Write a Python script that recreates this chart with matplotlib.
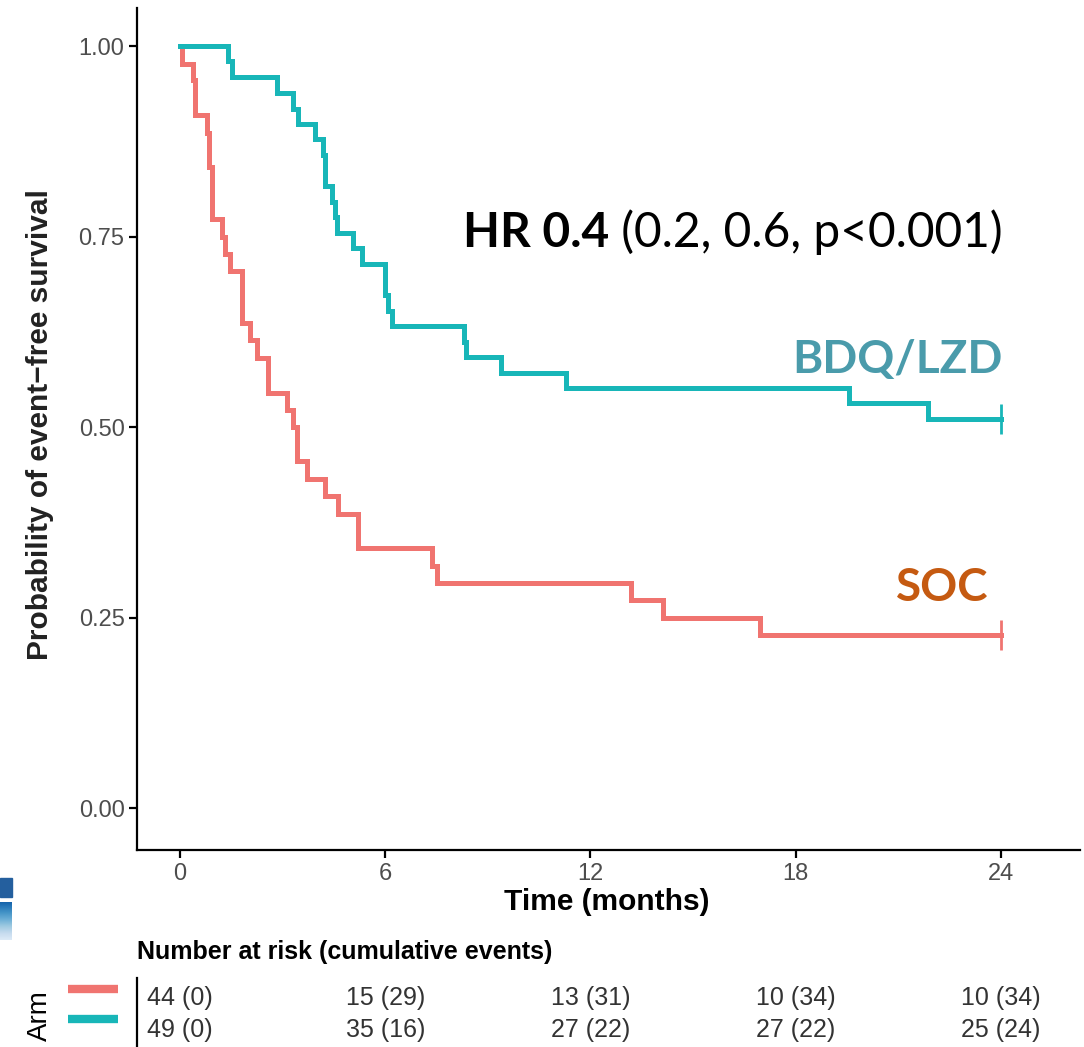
import numpy as np
import matplotlib
matplotlib.use("Agg")
import matplotlib.pyplot as plt
from matplotlib.transforms import blended_transform_factory
from matplotlib.patches import Rectangle

# Kaplan-Meier steps (time in months, survival after the drop)
soc_t = [0, 0.05, 0.39, 0.44, 0.80, 0.86, 0.93, 1.22, 1.32, 1.46, 1.80, 2.05, 2.24,
         2.58, 3.12, 3.31, 3.41, 3.70, 4.24, 4.63, 5.21, 7.36, 7.50, 13.20, 14.13, 16.96]
soc_s = [1.0, 0.977, 0.955, 0.909, 0.886, 0.841, 0.773, 0.750, 0.727, 0.705, 0.636, 0.614, 0.591,
         0.545, 0.523, 0.500, 0.455, 0.432, 0.409, 0.386, 0.341, 0.318, 0.295, 0.273, 0.250, 0.227]

bdq_t = [0, 1.39, 1.51, 2.83, 3.31, 3.46, 3.95, 4.19, 4.24, 4.43, 4.53, 4.58, 5.07, 5.31,
         6.00, 6.09, 6.19, 8.30, 8.36, 9.40, 11.29, 19.57, 21.88]
bdq_s = [1.0, 0.980, 0.959, 0.939, 0.918, 0.898, 0.878, 0.857, 0.816, 0.796, 0.776, 0.755, 0.735, 0.714,
         0.673, 0.653, 0.633, 0.612, 0.592, 0.571, 0.551, 0.531, 0.510]

t_end = 24
risk_times = [0, 6, 12, 18, 24]
soc_risk = ["44 (0)", "15 (29)", "13 (31)", "10 (34)", "10 (34)"]
bdq_risk = ["49 (0)", "35 (16)", "27 (22)", "27 (22)", "25 (24)"]

red = "#F07470"
teal = "#18B6B8"
sans = ["Liberation Sans", "DejaVu Sans"]
lato = ["Lato", "DejaVu Sans"]

fig = plt.figure(figsize=(10.84, 10.47), dpi=100)
ax = fig.add_axes([137 / 1084, 1 - 850 / 1047, (1080 - 137) / 1084, (850 - 8) / 1047])

for t, s, c in [(soc_t, soc_s, red), (bdq_t, bdq_s, teal)]:
    tt = np.append(t, t_end)
    ss = np.append(s, s[-1])
    ax.step(tt, ss, where="post", color=c, lw=3.6, solid_joinstyle="miter")
    ax.plot(t_end, s[-1], marker="|", ms=22, mew=2, color=c)

ax.set_xlim(-1.26, 26.32)
ax.set_ylim(-0.055, 1.05)
ax.set_xticks(risk_times)
ax.set_yticks([0, 0.25, 0.5, 0.75, 1.0])
ax.set_yticklabels(["0.00", "0.25", "0.50", "0.75", "1.00"])
for side in ["top", "right"]:
    ax.spines[side].set_visible(False)
for side in ["left", "bottom"]:
    ax.spines[side].set_linewidth(1.6)
ax.tick_params(axis="both", length=6, width=1.6, colors="black")
for lab in ax.get_xticklabels():
    lab.set(family=sans, fontsize=17, color="#4D4D4D")
for lab in ax.get_yticklabels():
    lab.set(family=sans, fontsize=17, color="#4D4D4D")
ax.tick_params(axis="x", pad=3)
ax.tick_params(axis="y", pad=3)

# axis titles
fig.text(40 / 1084, 1 - 425 / 1047, "Probability of event\u2212free survival", rotation=90,
         ha="center", va="center", fontsize=21.5, fontweight="bold",
         family=sans, color="#222222")
fig.text(607 / 1084, 1 - 902 / 1047, "Time (months)", ha="center", va="center",
         fontsize=21.5, fontweight="bold", family=sans, color="black")

# hazard ratio annotation
hr = fig.text(463 / 1084, 1 - 247 / 1047, "HR 0.4", ha="left", va="baseline",
              fontsize=34.5, fontweight="bold", family=lato, color="black")
ax.annotate(" (0.2, 0.6, p<0.001)", xy=(1, 0), xycoords=hr, ha="left", va="bottom",
            fontsize=34.5, family=lato, color="black", annotation_clip=False)

fig.text(1003 / 1084, 1 - 360 / 1047, "BDQ/LZD", ha="right", va="center", fontsize=33,
         fontweight="bold", family=lato, color="#4A9BAB")
fig.text(988 / 1084, 1 - 588 / 1047, "SOC", ha="right", va="center", fontsize=33,
         fontweight="bold", family=lato, color="#C55A11")

# number at risk table
fig.text(137 / 1084, 1 - 952 / 1047, "Number at risk (cumulative events)", ha="left", va="center",
         fontsize=18, fontweight="bold", family=sans, color="black")
trans = blended_transform_factory(ax.transData, fig.transFigure)
for x, a, b in zip(risk_times, soc_risk, bdq_risk):
    fig.text(x, 1 - 998 / 1047, a, transform=trans, ha="center", va="center",
             fontsize=18, family=sans, color="#333333")
    fig.text(x, 1 - 1030 / 1047, b, transform=trans, ha="center", va="center",
             fontsize=18, family=sans, color="#333333")
fig.text(40 / 1084, 1 - 1016 / 1047, "Arm", rotation=90, ha="center", va="center",
         fontsize=20, family=sans, color="black")
for yy, c in [(989, red), (1019, teal)]:
    fig.lines.append(plt.Line2D([68 / 1084, 118 / 1084], [1 - yy / 1047] * 2, lw=6, color=c,
                                solid_capstyle="butt", transform=fig.transFigure))
fig.lines.append(plt.Line2D([137 / 1084] * 2, [1 - 978 / 1047, 0], lw=1.6, color="black",
                            transform=fig.transFigure))

# bit of slide decoration at the left edge
fig.patches.append(Rectangle((0, 1 - 897 / 1047), 12 / 1084, 19 / 1047, color="#245F9E",
                             transform=fig.transFigure))
grad = fig.add_axes([0, 1 - 940 / 1047, 12 / 1084, 38 / 1047])
grad.imshow(np.linspace(0, 1, 50).reshape(-1, 1), cmap="Blues_r", aspect="auto",
            vmin=-0.3, vmax=1.2)
grad.axis("off")

fig.savefig("out.png", dpi=100)
